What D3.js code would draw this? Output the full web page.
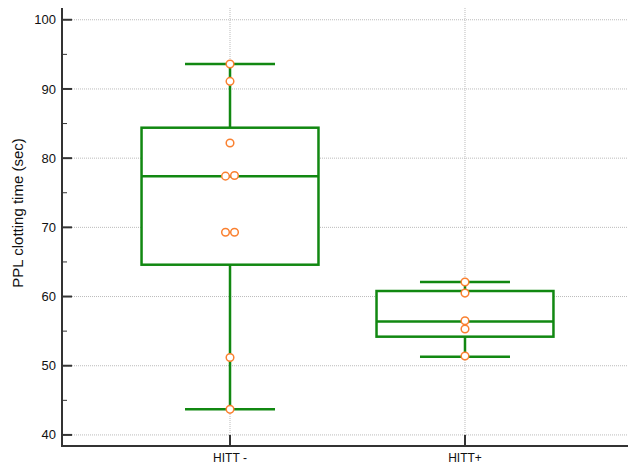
<!DOCTYPE html>
<html>
<head>
<meta charset="utf-8">
<script src="https://cdn.jsdelivr.net/npm/d3@7"></script>
<style>
  body { margin: 0; background: #fff; }
  text { font-family: 'Liberation Sans', Arial, sans-serif; }
</style>
</head>
<body>
<div id="chart"></div>
<script>
// groups and box statistics
const groups = ['HITT -', 'HITT+']
const whiskerLow = [43.7, 51.3]
const q1 = [64.6, 54.2]
const median = [77.4, 56.4]
const q3 = [84.4, 60.8]
const whiskerHigh = [93.6, 62.1]

// individual points (value, small horizontal jitter index)
const pointsHittMinus = [93.6, 91.1, 82.2, 77.4, 77.5, 69.3, 69.3, 51.2, 43.7]
const jitterHittMinus = [0, 0, 0, -1, 1, -1, 1, 0, 0]
const pointsHittPlus = [62.1, 60.5, 56.5, 55.3, 51.4]
const jitterHittPlus = [0, 0, 0, 0, 0]

const yTicks = [40, 50, 60, 70, 80, 90, 100]
const yMinorTicks = [45, 55, 65, 75, 85, 95]

const width = 628
const height = 465
const margin = { top: 8, right: 0, bottom: 19, left: 62 }

const svg = d3.select('#chart')
  .append('svg')
  .attr('width', width)
  .attr('height', height)

const green = '#118811'
const orange = '#fa8030'

const xPositionScale = d3.scalePoint()
  .domain(groups)
  .range([margin.left, 633])
  .padding(0.715)

const yPositionScale = d3.scaleLinear()
  .domain([38.4, 101.7])
  .range([height - margin.bottom, margin.top])

const step = xPositionScale.step()
const boxWidth = step * 0.753
const capWidth = step * 0.383

// grid
svg.append('g')
  .selectAll('line')
  .data(yTicks)
  .enter()
  .append('line')
  .attr('x1', margin.left)
  .attr('x2', width)
  .attr('y1', d => yPositionScale(d))
  .attr('y2', d => yPositionScale(d))
  .attr('stroke', '#bbb')
  .attr('stroke-width', 1)
  .attr('stroke-dasharray', '1,1')

svg.append('g')
  .selectAll('line')
  .data(groups)
  .enter()
  .append('line')
  .attr('x1', d => xPositionScale(d))
  .attr('x2', d => xPositionScale(d))
  .attr('y1', margin.top)
  .attr('y2', height - margin.bottom)
  .attr('stroke', '#bbb')
  .attr('stroke-width', 1)
  .attr('stroke-dasharray', '1,1')

// boxes
const boxes = svg.append('g')
  .selectAll('g')
  .data(groups)
  .enter()
  .append('g')

boxes.append('line')
  .attr('x1', d => xPositionScale(d))
  .attr('x2', d => xPositionScale(d))
  .attr('y1', (d, i) => yPositionScale(whiskerLow[i]))
  .attr('y2', (d, i) => yPositionScale(whiskerHigh[i]))
  .attr('stroke', green)
  .attr('stroke-width', 2.5)

boxes.append('rect')
  .attr('x', d => xPositionScale(d) - boxWidth / 2)
  .attr('width', boxWidth)
  .attr('y', (d, i) => yPositionScale(q3[i]))
  .attr('height', (d, i) => yPositionScale(q1[i]) - yPositionScale(q3[i]))
  .attr('fill', '#fff')
  .attr('stroke', green)
  .attr('stroke-width', 2.5)

boxes.append('line')
  .attr('x1', d => xPositionScale(d) - boxWidth / 2)
  .attr('x2', d => xPositionScale(d) + boxWidth / 2)
  .attr('y1', (d, i) => yPositionScale(median[i]))
  .attr('y2', (d, i) => yPositionScale(median[i]))
  .attr('stroke', green)
  .attr('stroke-width', 2.5)

;[whiskerLow, whiskerHigh].forEach(arr => {
  boxes.append('line')
    .attr('x1', d => xPositionScale(d) - capWidth / 2)
    .attr('x2', d => xPositionScale(d) + capWidth / 2)
    .attr('y1', (d, i) => yPositionScale(arr[i]))
    .attr('y2', (d, i) => yPositionScale(arr[i]))
    .attr('stroke', green)
    .attr('stroke-width', 2.5)
})

// points
const pointData = pointsHittMinus.map((v, i) => ({ group: groups[0], value: v, j: jitterHittMinus[i] }))
  .concat(pointsHittPlus.map((v, i) => ({ group: groups[1], value: v, j: jitterHittPlus[i] })))

svg.append('g')
  .selectAll('circle')
  .data(pointData)
  .enter()
  .append('circle')
  .attr('cx', d => xPositionScale(d.group) + d.j * 4.5)
  .attr('cy', d => yPositionScale(d.value))
  .attr('r', 3.8)
  .attr('fill', '#fff')
  .attr('stroke', orange)
  .attr('stroke-width', 1.5)

// axes
const axisColor = '#333'

svg.append('g')
  .selectAll('line')
  .data(yTicks)
  .enter()
  .append('line')
  .attr('x1', margin.left)
  .attr('x2', margin.left + 10)
  .attr('y1', d => yPositionScale(d))
  .attr('y2', d => yPositionScale(d))
  .attr('stroke', axisColor)
  .attr('stroke-width', 2)

svg.append('g')
  .selectAll('line')
  .data(yMinorTicks)
  .enter()
  .append('line')
  .attr('x1', margin.left)
  .attr('x2', margin.left + 5)
  .attr('y1', d => yPositionScale(d))
  .attr('y2', d => yPositionScale(d))
  .attr('stroke', axisColor)
  .attr('stroke-width', 1)

svg.append('g')
  .selectAll('text')
  .data(yTicks)
  .enter()
  .append('text')
  .attr('x', margin.left - 6)
  .attr('y', d => yPositionScale(d))
  .attr('dy', '0.35em')
  .attr('text-anchor', 'end')
  .attr('font-size', 13)
  .attr('fill', '#111')
  .text(d => d)

svg.append('g')
  .selectAll('line')
  .data(groups)
  .enter()
  .append('line')
  .attr('x1', d => xPositionScale(d))
  .attr('x2', d => xPositionScale(d))
  .attr('y1', height - margin.bottom)
  .attr('y2', height - margin.bottom - 11)
  .attr('stroke', axisColor)
  .attr('stroke-width', 2)

svg.append('g')
  .selectAll('text')
  .data(groups)
  .enter()
  .append('text')
  .attr('x', d => xPositionScale(d))
  .attr('y', height - margin.bottom + 16)
  .attr('text-anchor', 'middle')
  .attr('font-size', 12)
  .attr('fill', '#111')
  .text(d => d)

svg.append('line')
  .attr('x1', margin.left)
  .attr('x2', margin.left)
  .attr('y1', margin.top)
  .attr('y2', height - margin.bottom + 1)
  .attr('stroke', axisColor)
  .attr('stroke-width', 2)

svg.append('line')
  .attr('x1', margin.left - 1)
  .attr('x2', width)
  .attr('y1', height - margin.bottom)
  .attr('y2', height - margin.bottom)
  .attr('stroke', axisColor)
  .attr('stroke-width', 2)

svg.append('text')
  .attr('transform', 'translate(23,213) rotate(-90)')
  .attr('text-anchor', 'middle')
  .attr('font-size', 15)
  .attr('fill', '#111')
  .text('PPL clotting time (sec)')
</script>
</body>
</html>
